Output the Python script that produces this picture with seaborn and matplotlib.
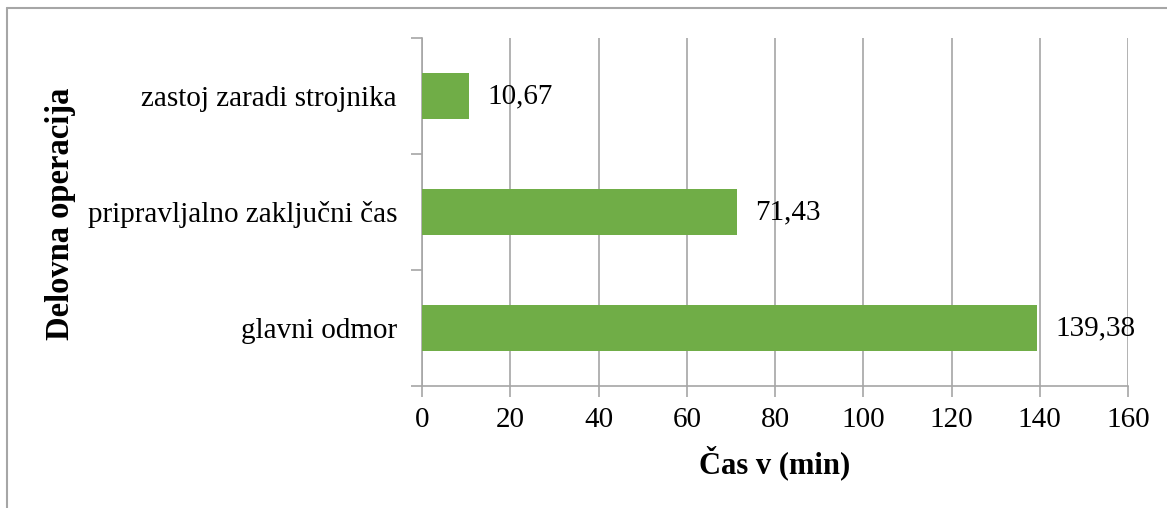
import matplotlib
matplotlib.use("Agg")
import matplotlib.pyplot as plt
import seaborn as sns
import pandas as pd
from matplotlib.ticker import FixedLocator
from matplotlib.lines import Line2D

categories = ["zastoj zaradi strojnika", "pripravljalno zaključni čas", "glavni odmor"]
values = [10.67, 71.43, 139.38]
value_labels = ["10,67", "71,43", "139,38"]
x_ticks = [0, 20, 40, 60, 80, 100, 120, 140, 160]

sns.set_theme(style="white")
plt.rcParams['font.family'] = ['Liberation Serif', 'DejaVu Serif']

df = pd.DataFrame({"cat": categories, "val": values})

fig = plt.figure(figsize=(11.67, 5.08), dpi=100)
ax = fig.add_axes([422/1167, 1-386/508, (1128-422)/1167, (386-38)/508])

sns.barplot(data=df, x="val", y="cat", order=categories, color="#70AD47",
            saturation=1, width=0.4, linewidth=0, ax=ax, zorder=3)

grid_c = "#A6A6A6"
FS = 21
ax.set_xlim(0, 160)
ax.set_ylim(2.5, -0.5)
ax.set_xticks(x_ticks)
ax.set_xticklabels([str(t) for t in x_ticks])
ax.xaxis.grid(True, color=grid_c, linewidth=1.2, zorder=0)
ax.yaxis.grid(False)
ax.set_axisbelow(True)

for s in ["top", "right"]:
    ax.spines[s].set_visible(False)
for s in ["left", "bottom"]:
    ax.spines[s].set_color(grid_c)
    ax.spines[s].set_linewidth(1.2)

ax.tick_params(axis="x", which="major", bottom=True, length=8, width=1.2,
               color=grid_c, labelsize=FS, pad=7, labelcolor="black")
ax.tick_params(axis="y", which="major", left=False, length=0, labelsize=FS,
               pad=18, labelcolor="black")
ax.yaxis.set_minor_locator(FixedLocator([-0.5, 0.5, 1.5, 2.5]))
ax.tick_params(axis="y", which="minor", left=True, length=8, width=1.2, color=grid_c)

for i, (v, lab) in enumerate(zip(values, value_labels)):
    ax.annotate(lab, xy=(v, i), xytext=(13, 0), textcoords="offset points",
                va="center", ha="left", fontsize=FS, color="black")

ax.set_xlabel("Čas v (min)", fontsize=22, fontweight="bold", labelpad=9, color="black")
ax.set_ylabel("")
fig.text(61/1167, 1-214/508, "Delovna operacija", rotation=90, fontsize=23.5,
         fontweight="bold", ha="center", va="center", color="black")

# figure frame (top and left edges)
fig.add_artist(Line2D([7/1167, 1.0], [1-8/508, 1-8/508], color="#A6A6A6",
                      linewidth=1.5, transform=fig.transFigure))
fig.add_artist(Line2D([7/1167, 7/1167], [1-8/508, 0.0], color="#A6A6A6",
                      linewidth=1.5, transform=fig.transFigure))

fig.savefig("out.png", dpi=100)
